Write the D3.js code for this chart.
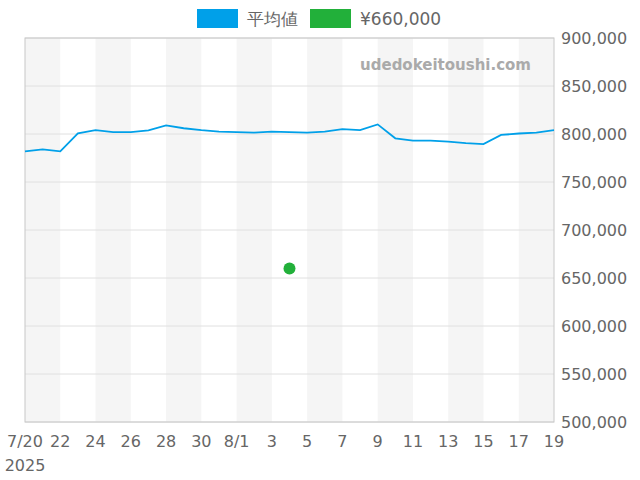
<!DOCTYPE html><html><head><meta charset="utf-8"><script src="https://d3js.org/d3.v7.min.js"></script>
<style>body{margin:0}text{font-family:"DejaVu Sans",sans-serif}</style></head><body><svg width="640" height="480"></svg><script>
const dates=["2025-07-20","2025-07-21","2025-07-22","2025-07-23","2025-07-24","2025-07-25","2025-07-26","2025-07-27","2025-07-28","2025-07-29","2025-07-30","2025-07-31","2025-08-01","2025-08-02","2025-08-03","2025-08-04","2025-08-05","2025-08-06","2025-08-07","2025-08-08","2025-08-09","2025-08-10","2025-08-11","2025-08-12","2025-08-13","2025-08-14","2025-08-15","2025-08-16","2025-08-17","2025-08-18","2025-08-19"];
const avg=[781900,784000,782000,800700,804000,802000,802000,803800,809000,806000,804000,802500,802000,801500,802500,802000,801500,802500,805000,804000,810000,795500,793000,793000,792000,790500,789500,799000,800500,801500,804000];
const pointDate="2025-08-04", pointVal=660000;
const yTicks=[500000,550000,600000,650000,700000,750000,800000,850000,900000];
const p=d3.timeParse("%Y-%m-%d");
const svg=d3.select("svg");
const L=25,R=554,T=38,B=422;
const x=d3.scaleTime().domain([p(dates[0]),p(dates[dates.length-1])]).range([L,R]);
const y=d3.scaleLinear().domain([500000,900000]).range([B,T]);
for(let i=0;i<dates.length-1;i+=4){svg.append("rect").attr("x",x(p(dates[i]))).attr("y",T).attr("width",x(p(dates[i+2]))-x(p(dates[i]))).attr("height",B-T).attr("fill","#f5f5f5");}
yTicks.forEach(t=>svg.append("line").attr("x1",L).attr("x2",R).attr("y1",y(t)).attr("y2",y(t)).attr("stroke","#e0e0e0"));
svg.append("rect").attr("x",L).attr("y",T).attr("width",R-L).attr("height",B-T).attr("fill","none").attr("stroke","#c8c8c8");
svg.append("text").attr("x",531).attr("y",70).attr("text-anchor","end").attr("font-size",15).attr("font-weight","bold").attr("fill","#aaa").text("udedokeitoushi.com");
svg.append("path").datum(avg).attr("fill","none").attr("stroke","#00a0e9").attr("stroke-width",1.8)
 .attr("d",d3.line().x((d,i)=>x(p(dates[i]))).y(d=>y(d)));
svg.append("circle").attr("cx",x(p(pointDate))).attr("cy",y(pointVal)).attr("r",6).attr("fill","#22b03a");
yTicks.forEach(t=>svg.append("text").attr("x",561).attr("y",y(t)+6).attr("font-size",16).attr("fill","#666").text(d3.format(",")(t)));
dates.forEach((d,i)=>{if(i%2)return;const dt=p(d);const lab=(i==0||dt.getDate()==1)?d3.timeFormat("%-m/%-d")(dt):d3.timeFormat("%-d")(dt);
 svg.append("text").attr("x",x(dt)).attr("y",447).attr("text-anchor","middle").attr("font-size",16).attr("fill","#666").text(lab);});
svg.append("text").attr("x",25).attr("y",471).attr("text-anchor","middle").attr("font-size",16).attr("fill","#666").text("2025");
const leg=[["平均値","#00a0e9",197],["¥660,000","#22b03a",310]];
leg.forEach(([t,c,lx])=>{svg.append("rect").attr("x",lx).attr("y",9).attr("width",41).attr("height",19).attr("fill",c);
 svg.append("text").attr("x",lx+50).attr("y",25).attr("font-size",17).attr("fill","#666").text(t);});
</script></body></html>
